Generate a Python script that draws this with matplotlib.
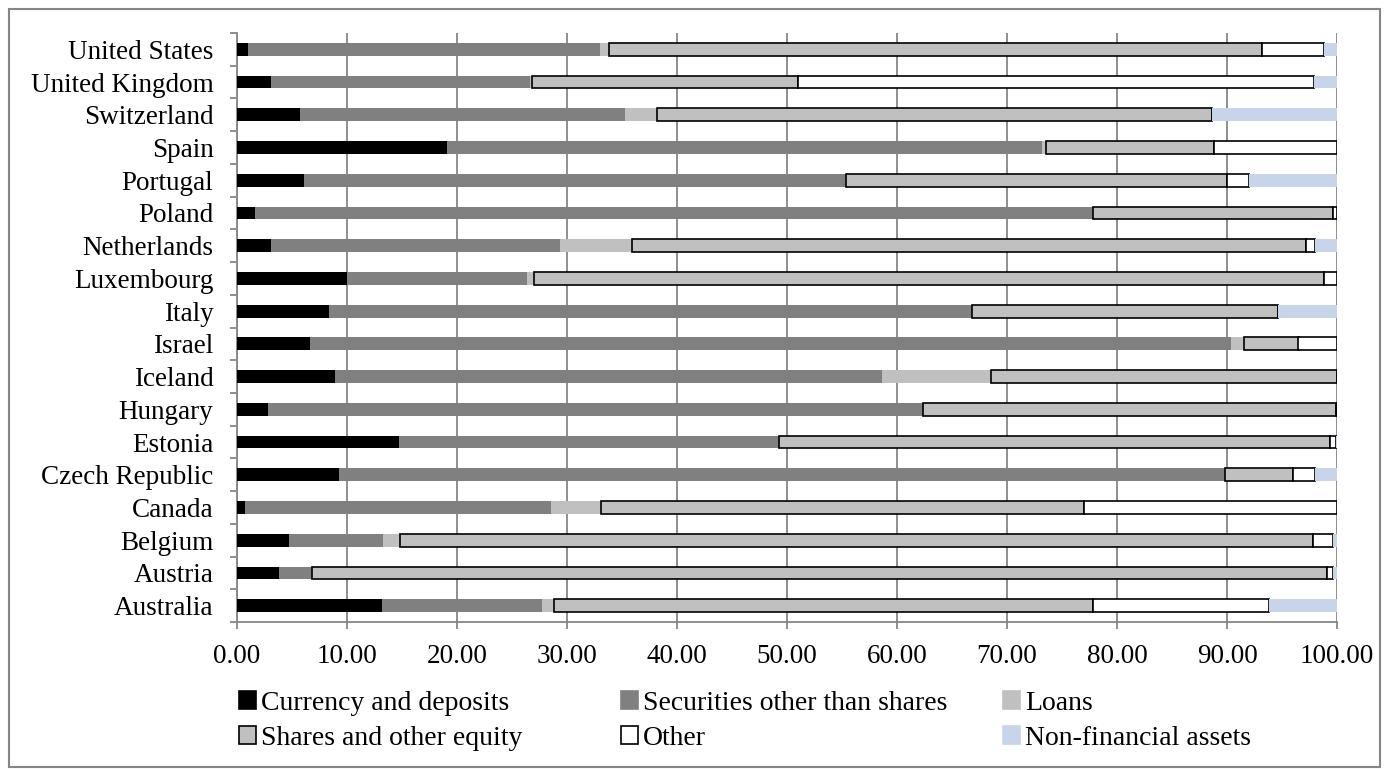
import matplotlib
matplotlib.use("Agg")
import matplotlib.pyplot as plt
from matplotlib.patches import Patch, Rectangle
import numpy as np

plt.rcParams['font.family'] = ['Liberation Serif', 'DejaVu Serif']

# countries, bottom row first
countries = ["Australia", "Austria", "Belgium", "Canada", "Czech Republic", "Estonia",
             "Hungary", "Iceland", "Israel", "Italy", "Luxembourg", "Netherlands",
             "Poland", "Portugal", "Spain", "Switzerland", "United Kingdom", "United States"]

# shares of total assets (%)
currency   = [13.2, 3.8, 4.7, 0.7, 9.3, 14.7, 2.8, 8.9, 6.6, 8.4, 10.0, 3.1, 1.6, 6.1, 19.1, 5.7, 3.1, 1.0]
securities = [14.5, 3.0, 8.6, 27.8, 80.5, 34.6, 59.6, 49.7, 83.8, 58.4, 16.4, 26.3, 76.2, 49.3, 54.1, 29.6, 23.5, 32.0]
loans      = [1.1, 0.0, 1.5, 4.6, 0.0, 0.0, 0.0, 9.9, 1.1, 0.0, 0.6, 6.5, 0.0, 0.0, 0.3, 2.9, 0.2, 0.8]
shares     = [49.0, 92.3, 83.0, 43.9, 6.2, 50.1, 37.5, 31.5, 5.0, 27.8, 71.8, 61.3, 21.8, 34.6, 15.3, 50.4, 24.2, 59.4]
other      = [16.0, 0.5, 1.8, 23.0, 2.0, 0.5, 0.1, 0.0, 3.5, 0.0, 1.2, 0.8, 0.4, 2.0, 11.2, 0.0, 46.9, 5.6]
nonfin     = [6.2, 0.4, 0.4, 0.0, 2.0, 0.1, 0.0, 0.0, 0.0, 5.4, 0.0, 2.0, 0.0, 8.0, 0.0, 11.4, 2.1, 1.2]

series = [
    ("Currency and deposits", currency, "#000000", "none"),
    ("Securities other than shares", securities, "#808080", "none"),
    ("Loans", loans, "#c0c0c0", "none"),
    ("Shares and other equity", shares, "#c0c0c0", "#000000"),
    ("Other", other, "#ffffff", "#000000"),
    ("Non-financial assets", nonfin, "#c8d4ea", "none"),
]

W, H = 1389, 769
fig = plt.figure(figsize=(W / 100, H / 100), dpi=100)
ax = fig.add_axes([237 / W, 1 - 622 / H, 1100 / W, 589 / H])

y = np.arange(len(countries))
left = np.zeros(len(countries))
for name, vals, color, edge in series:
    vals = np.array(vals)
    ax.barh(y, vals, left=left, height=0.39, color=color, edgecolor=edge,
            linewidth=1.2 if edge != "none" else 0, label=name, zorder=3)
    left += vals

ax.set_xlim(0, 100)
ax.set_ylim(-0.5, len(countries) - 0.5)
ax.set_xticks(np.arange(0, 101, 10))
ax.set_xticklabels([f"{v:.2f}" for v in range(0, 101, 10)])
ax.set_yticks(y)
ax.set_yticklabels(countries)
ax.set_yticks(np.arange(-0.5, len(countries), 1), minor=True)

ax.grid(axis="x", color="#868686", linewidth=1.3, zorder=0)
for s in ["top", "right"]:
    ax.spines[s].set_visible(False)
for s in ["left", "bottom"]:
    ax.spines[s].set_color("#868686")
    ax.spines[s].set_linewidth(1.3)

ax.tick_params(axis="y", which="major", length=0, pad=17, labelsize=19.5)
ax.tick_params(axis="y", which="minor", length=5, color="#868686", width=1.3)
ax.tick_params(axis="x", length=5, color="#868686", width=1.3, pad=11, labelsize=19.5)

# legend, three columns laid out by hand
handles = [Patch(facecolor=c, edgecolor=(e if e != "none" else c), linewidth=1.2, label=n)
           for n, v, c, e in series]
cols = [(handles[0], handles[3]), (handles[1], handles[4]), (handles[2], handles[5])]
for xpix, pair in zip([239, 621, 1003], cols):
    fig.legend(handles=list(pair), loc="upper left",
               bbox_to_anchor=(xpix / W, 1 - 691 / H), frameon=False,
               fontsize=20, handlelength=0.6, handleheight=0.6,
               handletextpad=0.2, labelspacing=0.36, borderpad=0, borderaxespad=0)

fig.add_artist(Rectangle((9 / W, 2 / H), 1371 / W, 758 / H, transform=fig.transFigure,
                         fill=False, edgecolor="#868686", linewidth=1.5))

fig.savefig("out.png", dpi=100)
